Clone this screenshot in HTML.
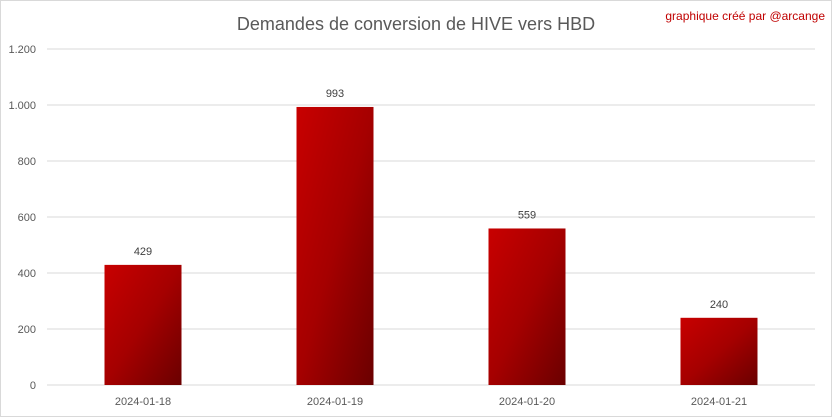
<!DOCTYPE html>
<html><head><meta charset="utf-8"><style>
body{margin:0;background:#fff}
svg{display:block;font-family:"Liberation Sans",sans-serif}
</style></head><body>
<svg id="chart" width="832" height="417" viewBox="0 0 832 417">
<defs><linearGradient id="g" x1="0" y1="0" x2="1" y2="1">
<stop offset="0" stop-color="#c80000"/><stop offset="0.5" stop-color="#a50000"/><stop offset="1" stop-color="#6a0000"/></linearGradient></defs>
<rect x="0.5" y="0.5" width="831" height="416" fill="#fff" stroke="#d9d9d9"/>
<text x="416" y="30" text-anchor="middle" font-size="18" fill="#595959">Demandes de conversion de HIVE vers HBD</text>
<text x="825" y="20" text-anchor="end" font-size="12" fill="#c00000">graphique créé par @arcange</text>
<g id="grid"></g><g id="bars"></g>
</svg>
<script>
const categories=["2024-01-18","2024-01-19","2024-01-20","2024-01-21"];
const values=[429,993,559,240];
const ticks=[0,200,400,600,800,1000,1200];
const tickLabels=["0","200","400","600","800","1.000","1.200"];
const NS="http://www.w3.org/2000/svg";
const x0=47,x1=815,y0=385,y1=49,max=1200;
const y=v=>y0-(v/max)*(y0-y1);
const bw=(x1-x0)/categories.length;
const grid=document.getElementById('grid'),bars=document.getElementById('bars');
function mk(t,a,p){const e=document.createElementNS(NS,t);for(const k in a)e.setAttribute(k,a[k]);p.appendChild(e);return e;}
ticks.forEach((t,i)=>{
 const l=mk('line',{x1:x0,x2:x1,y1:y(t),y2:y(t),stroke:'#d9d9d9','stroke-width':1},grid);
 
 
 const tx=mk('text',{x:36,y:y(t)+4,'text-anchor':'end','font-size':11,fill:'#595959'},grid);
 tx.textContent=tickLabels[i];
 
 
});
categories.forEach((c,i)=>{
 const cx=x0+bw*(i+0.5),w=77;
 const r=mk('rect',{x:cx-w/2,y:y(values[i]),width:w,height:y0-y(values[i]),fill:'url(#g)'},bars);
 
 
 const v=mk('text',{x:cx,y:y(values[i])-10,'text-anchor':'middle','font-size':11,fill:'#404040'},bars);
 v.textContent=values[i];
 
 
 const xl=mk('text',{x:cx,y:405,'text-anchor':'middle','font-size':11,fill:'#595959'},bars);
 xl.textContent=c;
 
 
});
</script>
</body></html>
